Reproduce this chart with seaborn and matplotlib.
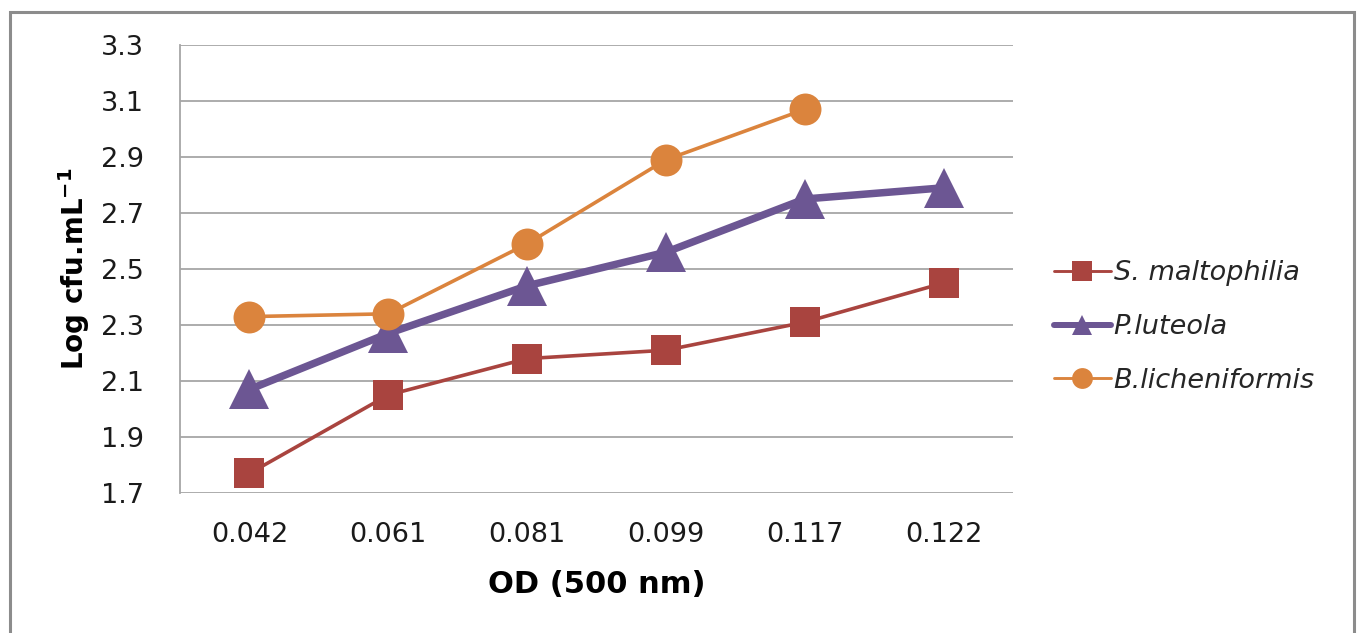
import numpy as np
import pandas as pd
import matplotlib
matplotlib.use("Agg")
import matplotlib.pyplot as plt
from matplotlib.lines import Line2D
from matplotlib.patches import Rectangle
import seaborn as sns

# OD readings (category axis) and log counts for each strain
od_labels = ["0.042", "0.061", "0.081", "0.099", "0.117", "0.122"]
s_maltophilia = [1.77, 2.05, 2.18, 2.21, 2.31, 2.45]
p_luteola = [2.07, 2.27, 2.44, 2.56, 2.75, 2.79]
b_licheniformis = [2.33, 2.34, 2.59, 2.89, 3.07, np.nan]
y_ticks = [1.7, 1.9, 2.1, 2.3, 2.5, 2.7, 2.9, 3.1, 3.3]

series_names = ["S. maltophilia", "P.luteola", "B.licheniformis"]
series_vals = [s_maltophilia, p_luteola, b_licheniformis]
colors = ["#A9443F", "#6C5693", "#DB843D"]
markers = ["s", "^", "o"]
line_widths = [2.6, 5.4, 2.6]
marker_sizes = [21, 29, 23]
legend_msizes = [15, 15, 15]

sns.set_theme(style="white")
plt.rcParams["font.family"] = ["DejaVu Sans"]
plt.rcParams["mathtext.fontset"] = "dejavusans"

fig = plt.figure(figsize=(13.59, 6.33), dpi=100)
ax = fig.add_axes([180 / 1359, 1 - 493 / 633, 833 / 1359, 448 / 633])

x_idx = np.arange(len(od_labels))
for name, vals, c, m, lw, ms in zip(series_names, series_vals, colors,
                                     markers, line_widths, marker_sizes):
    df = pd.DataFrame({"x": x_idx, "y": vals}).dropna()
    sns.lineplot(data=df, x="x", y="y", ax=ax, color=c, marker=m,
                 linewidth=lw, markersize=ms, markeredgewidth=0,
                 label=None, legend=False, zorder=3)

grid_c = "#A6A6A6"
ax.set_xlim(-0.5, len(od_labels) - 0.5)
ax.set_ylim(y_ticks[0], y_ticks[-1])
ax.set_yticks(y_ticks)
ax.set_yticklabels([f"{v:.1f}" for v in y_ticks])
ax.set_xticks(x_idx)
ax.set_xticklabels(od_labels)
ax.yaxis.grid(True, color=grid_c, linewidth=1.3)
ax.xaxis.grid(False)
ax.set_axisbelow(True)
for side in ["top", "right", "bottom"]:
    ax.spines[side].set_visible(False)
ax.spines["left"].set_color(grid_c)
ax.spines["left"].set_linewidth(1.3)
ax.tick_params(axis="both", length=0, labelsize=19.5, colors="#1a1a1a")
ax.tick_params(axis="x", pad=21)
ax.tick_params(axis="y", pad=26)

ax.set_xlabel("OD (500 nm)", fontsize=22, fontweight="bold", color="black")
ax.xaxis.set_label_coords(0.5, -0.172)
ax.set_ylabel(r"Log cfu.mL$^{\mathbf{-1}}$", fontsize=20, fontweight="bold",
              color="black")
ax.yaxis.set_label_coords(-0.106, 0.5)

handles = [Line2D([0], [0], color=c, marker=m, linewidth=lw * 0.8,
                  markersize=ms, markeredgewidth=0)
           for c, m, lw, ms in zip(colors, markers, line_widths, legend_msizes)]
fig.legend(handles, series_names, loc="center left",
           bbox_to_anchor=(1054 / 1359, 1 - 327 / 633), frameon=False,
           prop={"style": "italic", "size": 19.5}, handlelength=2.1,
           handletextpad=0.1, labelspacing=1.03, borderpad=0, borderaxespad=0)

fig.patches.append(Rectangle((10 / 1359, -0.05), 1344 / 1359, 1.05 - 12 / 633,
                             transform=fig.transFigure, fill=False,
                             edgecolor="#8C8C8C", linewidth=2.2))

fig.savefig("out.png", dpi=100, facecolor="white")
